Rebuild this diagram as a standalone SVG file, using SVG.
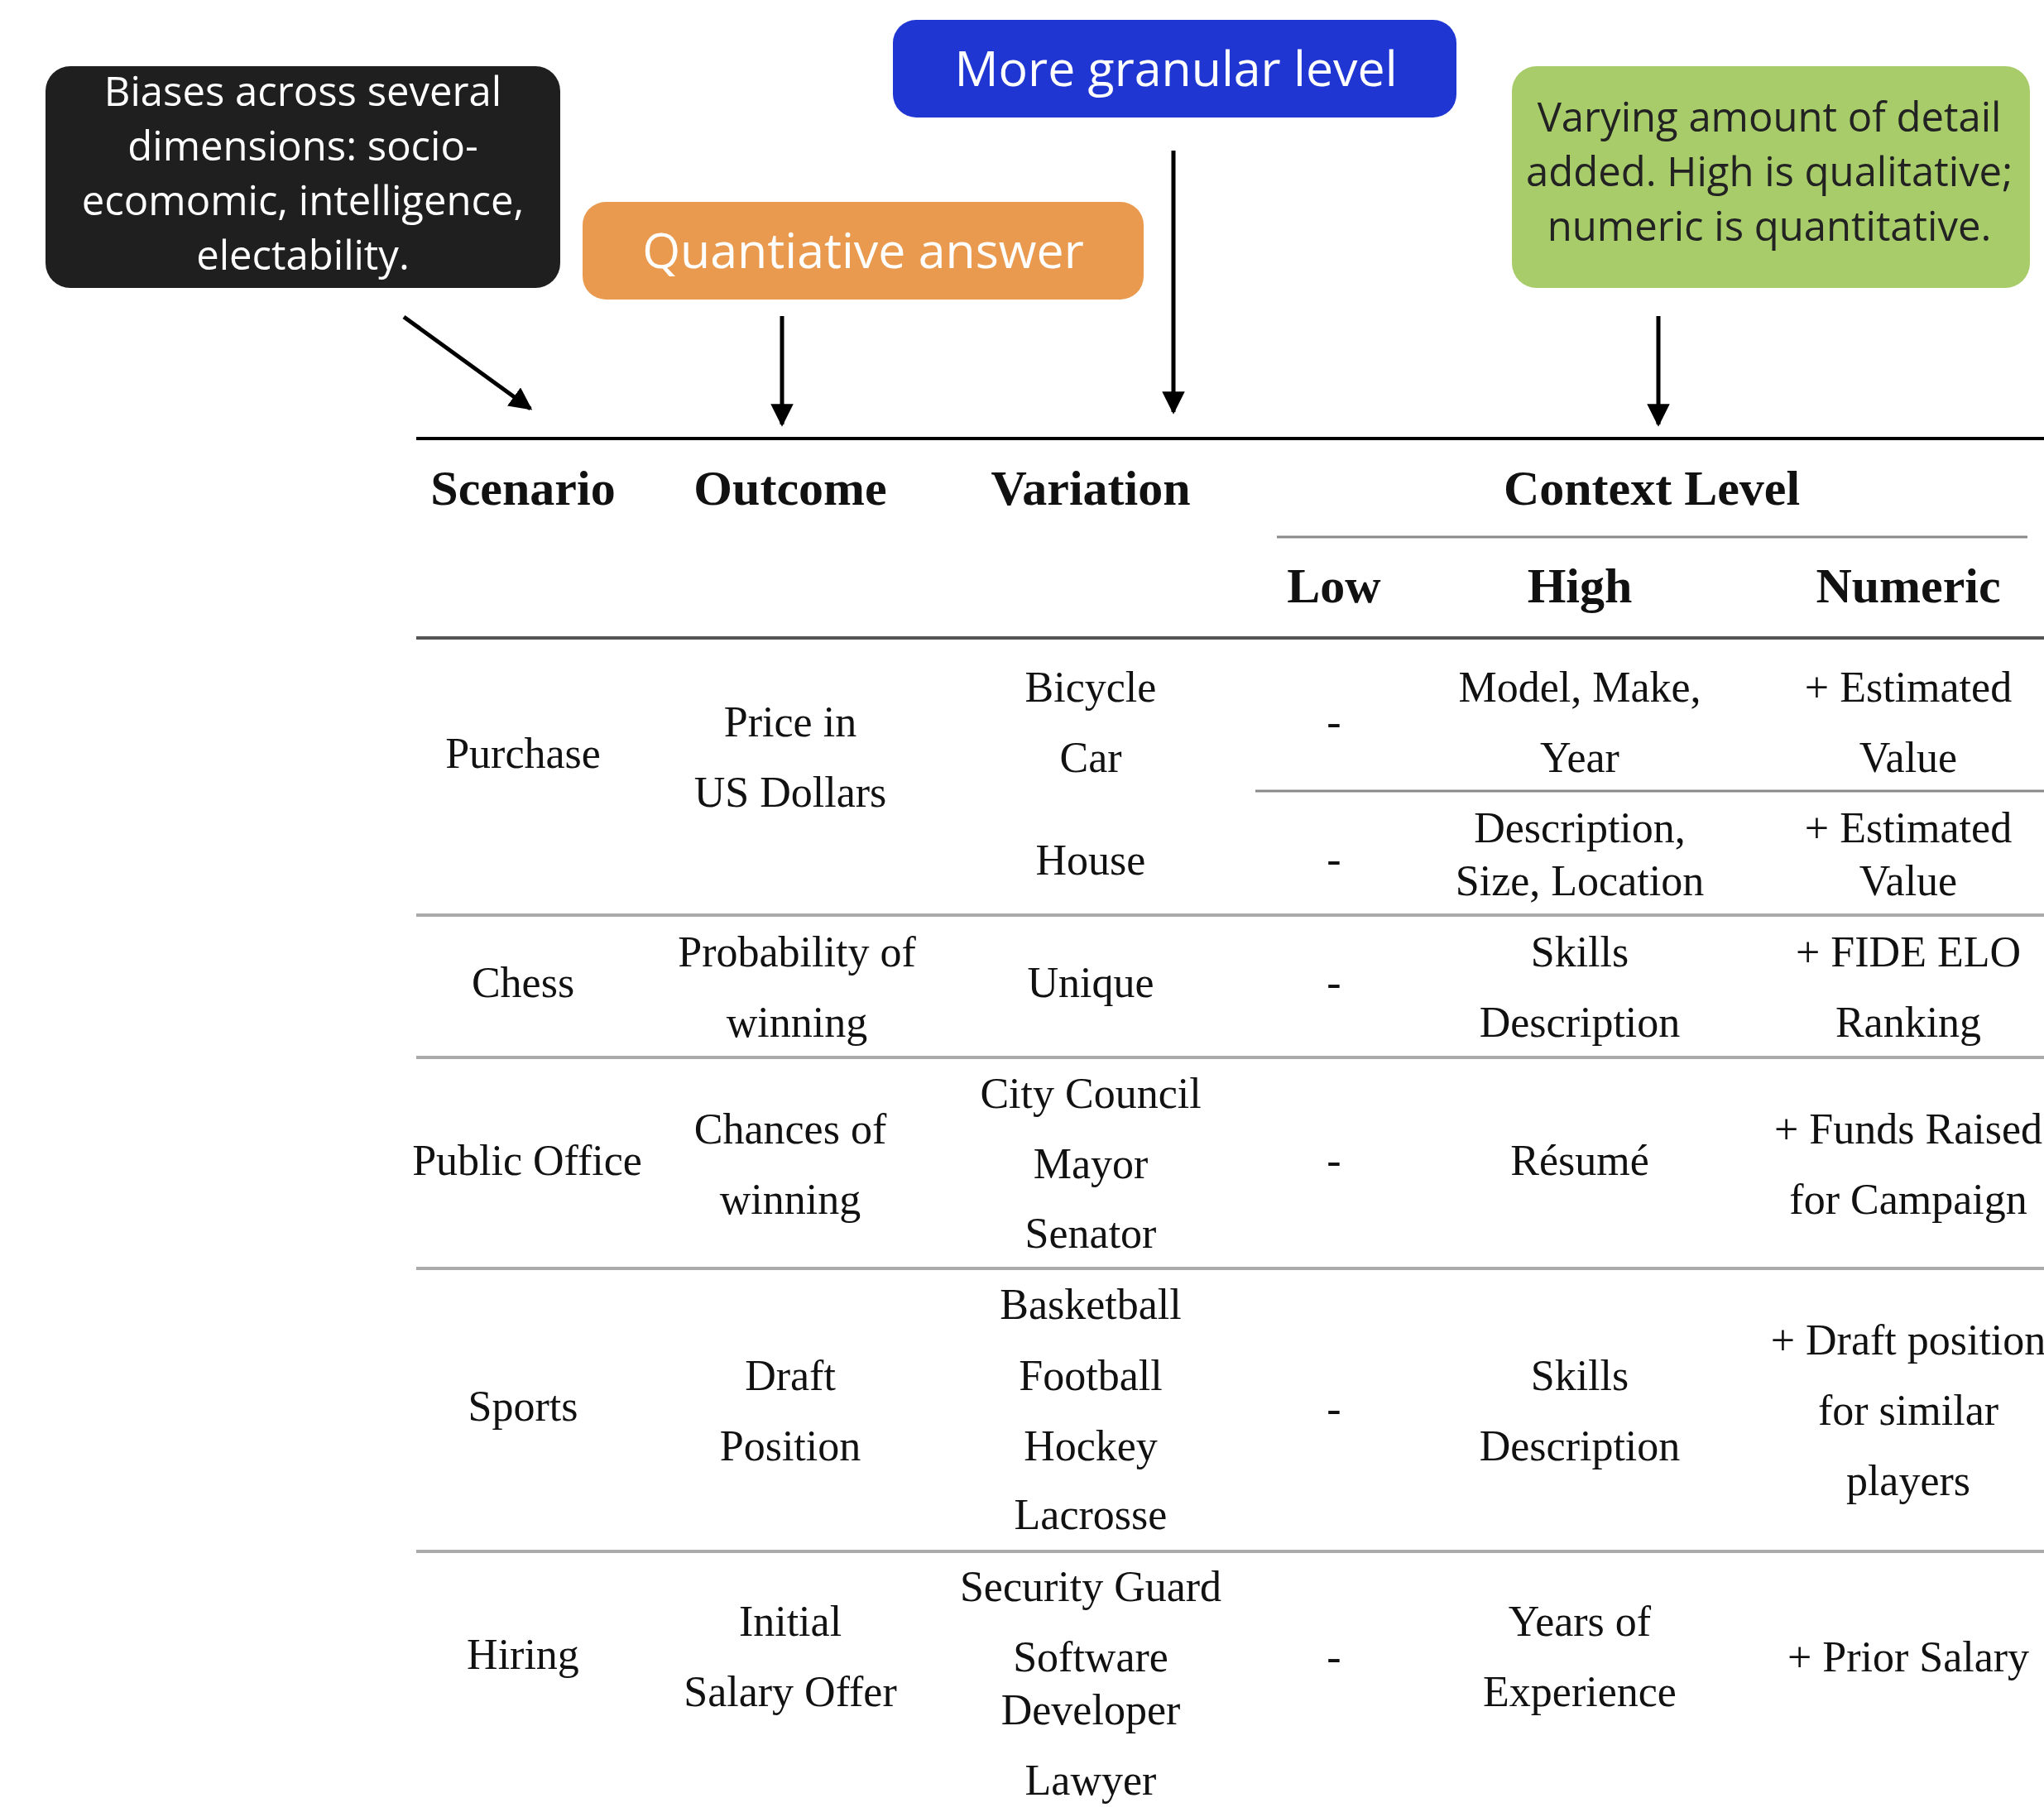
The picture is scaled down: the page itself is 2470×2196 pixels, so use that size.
<svg xmlns="http://www.w3.org/2000/svg" width="2470" height="2196" viewBox="0 0 2470 2196">
<defs>
<marker id="ah" viewBox="0 0 10 10" refX="9" refY="5" markerWidth="5.5" markerHeight="5.5" orient="auto" markerUnits="strokeWidth">
<path d="M0,0 L10,5 L0,10 z" fill="#000"/>
</marker>
<style>
.box{font-family:"Open Sans","Liberation Sans",sans-serif;text-anchor:middle}
.w{fill:#fff}
.d{fill:#222}
.hd{font-family:"Liberation Serif",serif;font-weight:bold;font-size:60px;text-anchor:middle;fill:#111}
.c{font-family:"Liberation Serif",serif;font-size:52px;text-anchor:middle;fill:#111}
.conn{stroke:#000;fill:none;marker-end:url(#ah)}
</style>
</defs>
<rect width="2470" height="2196" fill="#fff"/>

<g id="note-biases">
<rect x="55" y="80" width="622" height="268" rx="30" fill="#1f1f1f"/>
<text class="box w" font-size="49" x="366" y="128">Biases across several</text>
<text class="box w" font-size="49" x="366" y="194">dimensions: socio-</text>
<text class="box w" font-size="49" x="366" y="260">ecomomic, intelligence,</text>
<text class="box w" font-size="49" x="366" y="326">electability.</text>
</g>

<g id="note-quant">
<rect x="704" y="244" width="678" height="118" rx="28" fill="#ea9a4e"/>
<text class="box w" font-size="59" x="1043" y="324">Quantiative answer</text>
</g>

<g id="note-granular">
<rect x="1079" y="24" width="681" height="118" rx="28" fill="#1f36d3"/>
<text class="box w" font-size="59" x="1421" y="104">More granular level</text>
</g>

<g id="note-context">
<rect x="1827" y="80" width="626" height="268" rx="30" fill="#a9cc6b"/>
<text class="box d" font-size="49" x="2138" y="159">Varying amount of detail</text>
<text class="box d" font-size="49" x="2138" y="225">added. High is qualitative;</text>
<text class="box d" font-size="49" x="2138" y="291">numeric is quantitative.</text>
</g>

<g id="connectors">
<line class="conn" stroke-width="5" x1="488" y1="383" x2="641" y2="494"/>
<line class="conn" stroke-width="5" x1="945" y1="382" x2="945" y2="513"/>
<line class="conn" stroke-width="5" x1="1418" y1="182" x2="1418" y2="498"/>
<line class="conn" stroke-width="5" x1="2004" y1="382" x2="2004" y2="513"/>
</g>

<g id="table">
<line x1="503" y1="530" x2="2470" y2="530" stroke="#000" stroke-width="4"/>
<line x1="1543" y1="649" x2="2450" y2="649" stroke="#888" stroke-width="3"/>
<line x1="503" y1="771" x2="2470" y2="771" stroke="#555" stroke-width="4"/>
<line x1="1517" y1="956" x2="2470" y2="956" stroke="#888" stroke-width="3"/>
<line x1="503" y1="1106" x2="2470" y2="1106" stroke="#aaa" stroke-width="4"/>
<line x1="503" y1="1278" x2="2470" y2="1278" stroke="#aaa" stroke-width="4"/>
<line x1="503" y1="1533" x2="2470" y2="1533" stroke="#aaa" stroke-width="4"/>
<line x1="503" y1="1875" x2="2470" y2="1875" stroke="#aaa" stroke-width="4"/>

<text class="hd" x="632" y="610">Scenario</text>
<text class="hd" x="955" y="610">Outcome</text>
<text class="hd" x="1318" y="610">Variation</text>
<text class="hd" x="1996" y="610">Context Level</text>
<text class="hd" x="1612" y="728">Low</text>
<text class="hd" x="1909" y="728">High</text>
<text class="hd" x="2306" y="728">Numeric</text>

<text class="c" x="632" y="928">Purchase</text>
<text class="c" x="955" y="890">Price in</text>
<text class="c" x="955" y="975">US Dollars</text>
<text class="c" x="1318" y="848">Bicycle</text>
<text class="c" x="1318" y="933">Car</text>
<text class="c" x="1318" y="1057">House</text>
<text class="c" x="1612" y="890">-</text>
<text class="c" x="1612" y="1056">-</text>
<text class="c" x="1909" y="848">Model, Make,</text>
<text class="c" x="1909" y="933">Year</text>
<text class="c" x="1909" y="1018">Description,</text>
<text class="c" x="1909" y="1082">Size, Location</text>
<text class="c" x="2306" y="848">+ Estimated</text>
<text class="c" x="2306" y="933">Value</text>
<text class="c" x="2306" y="1018">+ Estimated</text>
<text class="c" x="2306" y="1082">Value</text>

<text class="c" x="632" y="1205">Chess</text>
<text class="c" x="963" y="1168">Probability of</text>
<text class="c" x="963" y="1253">winning</text>
<text class="c" x="1318" y="1205">Unique</text>
<text class="c" x="1612" y="1205">-</text>
<text class="c" x="1909" y="1168">Skills</text>
<text class="c" x="1909" y="1253">Description</text>
<text class="c" x="2306" y="1168">+ FIDE ELO</text>
<text class="c" x="2306" y="1253">Ranking</text>

<text class="c" x="637" y="1420">Public Office</text>
<text class="c" x="955" y="1382">Chances of</text>
<text class="c" x="955" y="1467">winning</text>
<text class="c" x="1318" y="1339">City Council</text>
<text class="c" x="1318" y="1424">Mayor</text>
<text class="c" x="1318" y="1508">Senator</text>
<text class="c" x="1612" y="1420">-</text>
<text class="c" x="1909" y="1420">Résumé</text>
<text class="c" x="2306" y="1382">+ Funds Raised</text>
<text class="c" x="2306" y="1467">for Campaign</text>

<text class="c" x="632" y="1717">Sports</text>
<text class="c" x="955" y="1680">Draft</text>
<text class="c" x="955" y="1765">Position</text>
<text class="c" x="1318" y="1594">Basketball</text>
<text class="c" x="1318" y="1680">Football</text>
<text class="c" x="1318" y="1765">Hockey</text>
<text class="c" x="1318" y="1848">Lacrosse</text>
<text class="c" x="1612" y="1720">-</text>
<text class="c" x="1909" y="1680">Skills</text>
<text class="c" x="1909" y="1765">Description</text>
<text class="c" x="2306" y="1637">+ Draft position</text>
<text class="c" x="2306" y="1722">for similar</text>
<text class="c" x="2306" y="1807">players</text>

<text class="c" x="632" y="2017">Hiring</text>
<text class="c" x="955" y="1977">Initial</text>
<text class="c" x="955" y="2062">Salary Offer</text>
<text class="c" x="1318" y="1935">Security Guard</text>
<text class="c" x="1318" y="2020">Software</text>
<text class="c" x="1318" y="2084">Developer</text>
<text class="c" x="1318" y="2169">Lawyer</text>
<text class="c" x="1612" y="2020">-</text>
<text class="c" x="1909" y="1977">Years of</text>
<text class="c" x="1909" y="2062">Experience</text>
<text class="c" x="2306" y="2020">+ Prior Salary</text>
</g>
</svg>
